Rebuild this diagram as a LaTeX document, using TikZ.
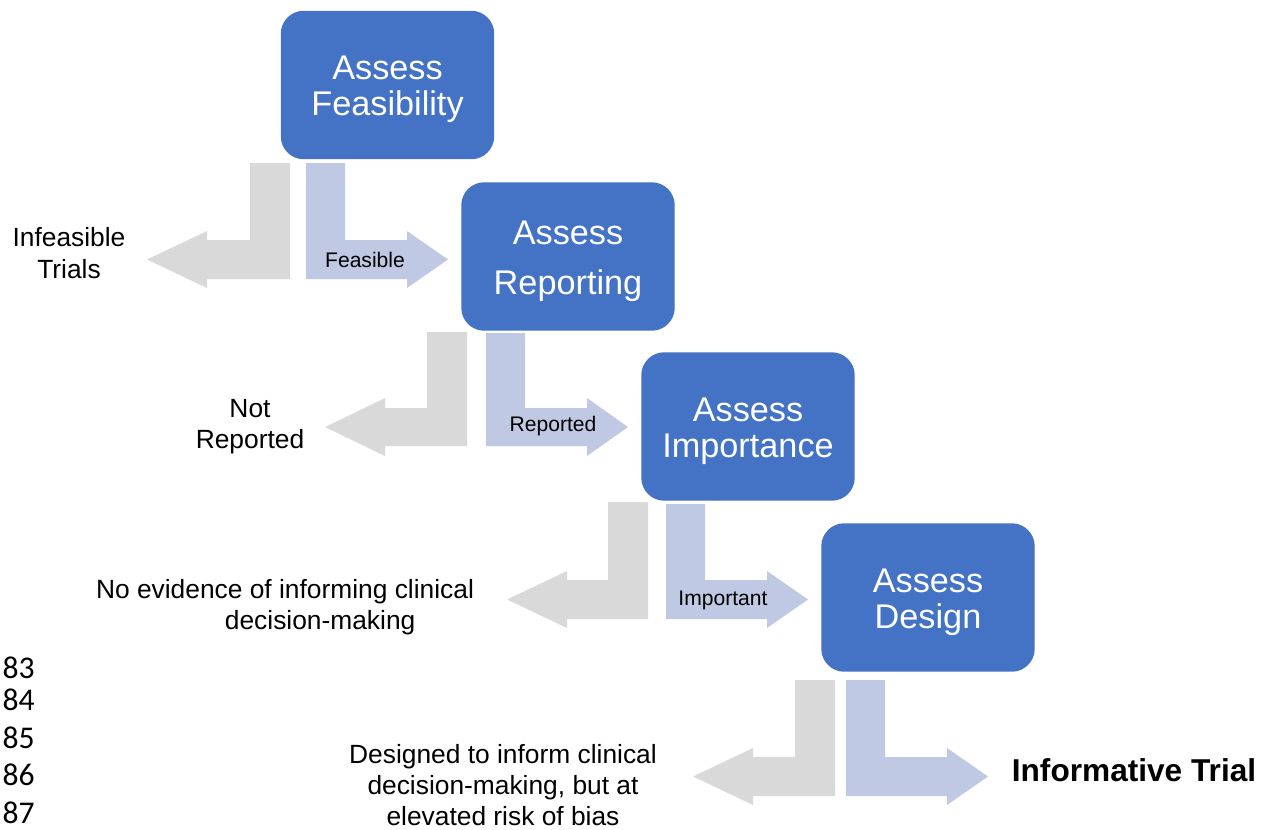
\documentclass[tikz,border=0pt]{standalone}
\usepackage{fontspec}
\setmainfont{Liberation Sans}
\newfontfamily\linenofont{Carlito}
\usepackage{tikz}
\definecolor{boxblue}{RGB}{68,114,196}
\definecolor{paleblue}{RGB}{192,201,228}
\definecolor{palegray}{RGB}{217,217,217}
\newcommand{\boxstrut}{\rule{0pt}{18.6pt}}

\begin{document}
\begin{tikzpicture}[x=0.02cm,y=-0.02cm,
    assessbox/.style={fill=boxblue,rounded corners=0.46cm,minimum width=4.27cm,minimum height=2.97cm,
        text=white,align=center,inner sep=0pt,font=\fontsize{19.5}{20.5}\selectfont},
    yesarrow/.style={fill=paleblue},
    noarrow/.style={fill=palegray},
    arrowlabel/.style={inner sep=0pt,font=\fontsize{12}{14}\selectfont},
    outcome/.style={align=center,inner sep=0pt,font=\fontsize{15}{17.8}\selectfont},
    lineno/.style={anchor=east,inner sep=0pt,font=\linenofont\fontsize{18}{20}\selectfont}]
    \useasboundingbox (0,0) rectangle (1261,829);
    % assessment boxes
    \node[assessbox] (feas) at (387.5,85) {\boxstrut Assess\\Feasibility};
    \node[assessbox] (rep) at (568,256.5) {\boxstrut Assess\\[8pt]Reporting};
    \node[assessbox] (imp) at (748,426.5) {\boxstrut Assess\\Importance};
    \node[assessbox] (des) at (928,597.5) {\boxstrut Assess\\Design};
    % row 1
    \fill[noarrow] (290,163) -- (290,279) -- (207,279) -- (207,288) -- (147,259.5) -- (207,231) -- (207,240) -- (250,240) -- (250,163) -- cycle;
    \fill[yesarrow] (306,163) -- (345,163) -- (345,240) -- (407,240) -- (407,231) -- (448,259.5) -- (407,288) -- (407,279) -- (306,279) -- cycle;
    % row 2
    \fill[noarrow] (467,332) -- (467,446) -- (385,446) -- (385,456) -- (325,427) -- (385,398) -- (385,408) -- (427,408) -- (427,332) -- cycle;
    \fill[yesarrow] (486,333) -- (525,333) -- (525,408) -- (587,408) -- (587,398) -- (628,427) -- (587,456) -- (587,446) -- (486,446) -- cycle;
    % row 3
    \fill[noarrow] (648,502) -- (648,619) -- (567,619) -- (567,628) -- (507,599.5) -- (567,571) -- (567,580) -- (608,580) -- (608,502) -- cycle;
    \fill[yesarrow] (666,504) -- (705,504) -- (705,580) -- (767,580) -- (767,571) -- (808,599.5) -- (767,628) -- (767,619) -- (666,619) -- cycle;
    % row 4
    \fill[noarrow] (835,680) -- (835,796) -- (753,796) -- (753,805) -- (693,776.5) -- (753,748) -- (753,757) -- (795,757) -- (795,680) -- cycle;
    \fill[yesarrow] (846,680) -- (885,680) -- (885,757) -- (947,757) -- (947,748) -- (988,776.5) -- (947,805) -- (947,796) -- (846,796) -- cycle;
    % labels
    \node[arrowlabel] (feasl) at (365,260) {Feasible};
    \node[arrowlabel] (repl) at (553,426) {Reported};
    \node[arrowlabel] (impl) at (723,600) {Important};
    \node[outcome] (infeas) at (69,253) {Infeasible\\Trials};
    \node[outcome] (notrep) at (250,427) {Not\\Reported};
    \node[outcome] (noevid) at (285,607) {No evidence of informing clinical\\\hspace*{40pt}decision-making};
    \node[outcome] (bias) at (503,785) {Designed to inform clinical\\decision-making, but at\\elevated risk of bias};
    \node[inner sep=0pt,font=\fontsize{18}{20}\selectfont\bfseries] (inform) at (1134,770) {Informative Trial};
    % line numbers
    \node[lineno] (n83) at (35,668) {83};
    \node[lineno] (n84) at (35,700) {84};
    \node[lineno] (n85) at (35,738) {85};
    \node[lineno] (n86) at (35,775) {86};
    \node[lineno] (n87) at (35,813) {87};
\end{tikzpicture}
\end{document}
